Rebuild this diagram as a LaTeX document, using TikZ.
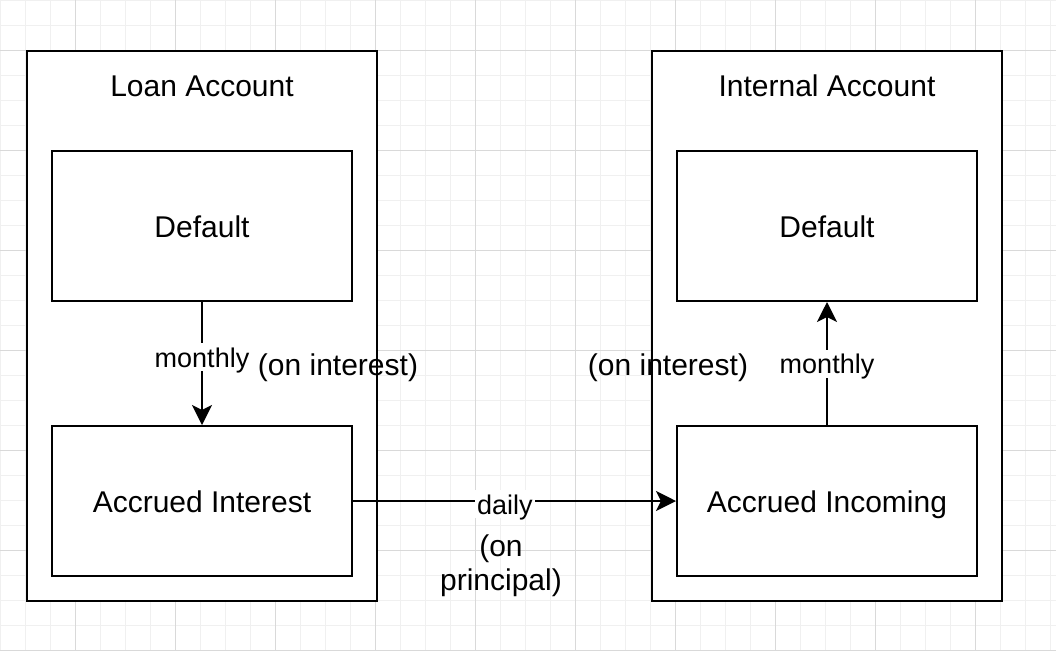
\documentclass[tikz,border=0pt]{standalone}
\usepackage{fontspec}
\setmainfont{Liberation Sans}
\usetikzlibrary{arrows.meta}

\tikzset{
  gridminor/.style={draw=black!6, line width=0.5pt},
  gridmajor/.style={draw=black!15, line width=0.5pt},
  acct/.style={draw, line width=1pt, fill=white, minimum width=175pt, minimum height=275pt, inner sep=0pt},
  bucket/.style={draw, line width=1pt, fill=white, minimum width=150pt, minimum height=75pt,
    text height=11pt, text depth=0pt, font=\fontsize{15}{18}\selectfont},
  title/.style={font=\fontsize{15}{18}\selectfont},
  lbl/.style={font=\fontsize{13.5}{16}\selectfont, fill=white, inner sep=1pt, text height=11pt, text depth=1pt},
  note/.style={font=\fontsize{15}{17}\selectfont, align=center, inner sep=0pt},
  flow/.style={line width=1pt, -{Stealth[length=10pt,width=10pt,inset=2.5pt]}}
}

\begin{document}
\begin{tikzpicture}[x=0.5pt, y=-0.5pt]

  \useasboundingbox (0,0) rectangle (1056,650);

  % grid
  \foreach \x in {0,25,...,1050} \draw[gridminor] (\x,0) -- (\x,650);
  \foreach \y in {0,25,...,650} \draw[gridminor] (0,\y) -- (1056,\y);
  \foreach \x in {75,175,...,975} \draw[gridmajor] (\x,0) -- (\x,650);
  \foreach \y in {50,150,...,650} \draw[gridmajor] (0,\y) -- (1056,\y);

  % loan account
  \node[acct] (loan) at (202,326) {};
  \node[title] (loant) at (202,86) {Loan Account};
  \node[bucket] (ldef) at (202,226) {Default};
  \node[bucket] (lacc) at (202,501) {Accrued Interest};

  % internal account
  \node[acct] (int) at (827,326) {};
  \node[title] (intt) at (827,86) {Internal Account};
  \node[bucket] (idef) at (827,226) {Default};
  \node[bucket] (iacc) at (827,501) {Accrued Incoming};

  % monthly flows
  \draw[flow] (ldef) -- node[lbl, pos=0.45] (lm) {monthly} (lacc);
  \node[note] (lnote) at (338,368) {(on interest)};

  \draw[flow] (iacc) -- node[lbl] (im) {monthly} (idef);
  \node[note] (inote) at (668,368) {(on interest)};

  % daily flow
  \draw[flow] (lacc) -- node[lbl, pos=0.47, yshift=-1.5pt] (dl) {daily} (iacc);
  \node[note] (dnote) at (501,566) {(on\\principal)};

\end{tikzpicture}
\end{document}
